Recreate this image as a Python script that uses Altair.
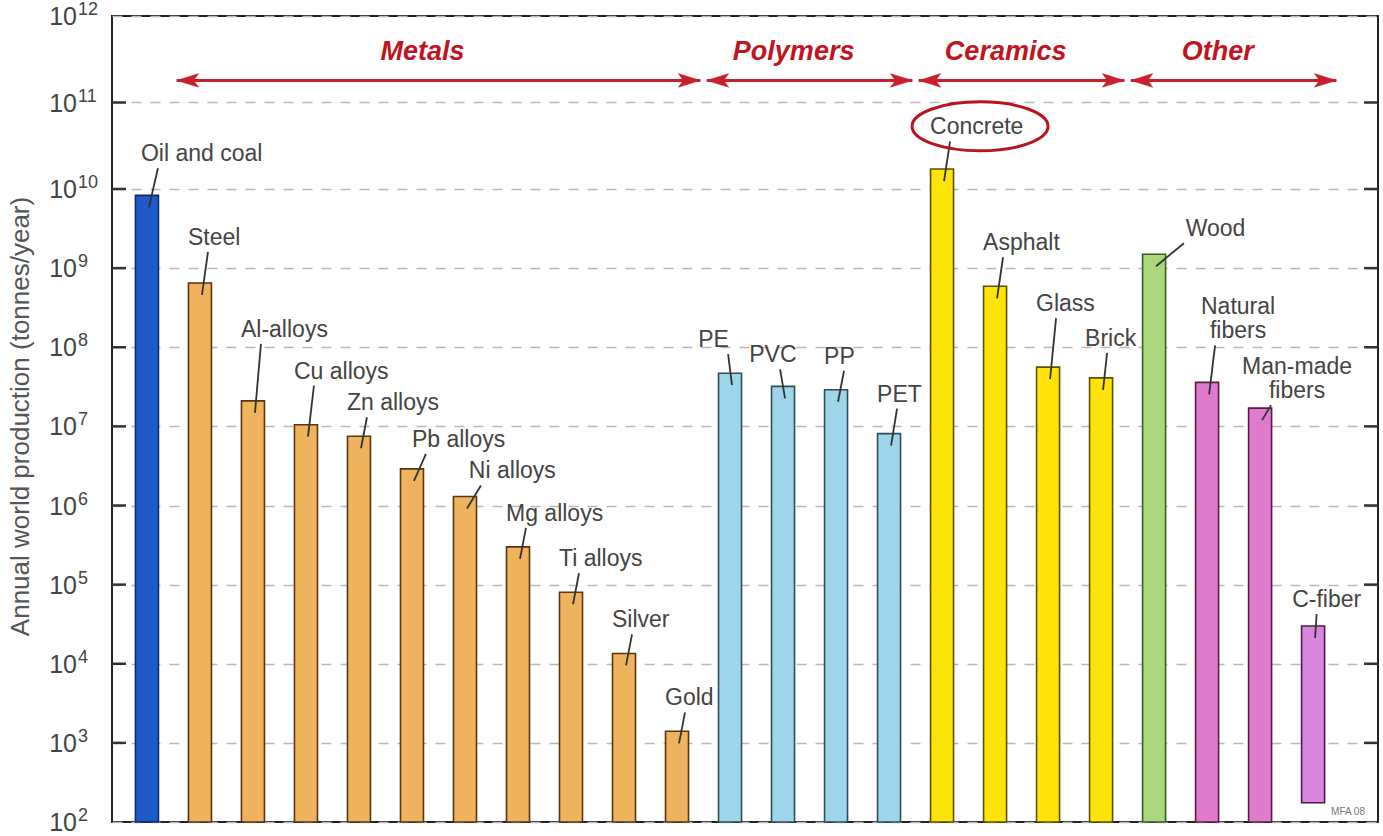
import altair as alt
import pandas as pd

# ---------------- data ----------------
names = ["Oil and coal", "Steel", "Al-alloys", "Cu alloys", "Zn alloys", "Pb alloys",
         "Ni alloys", "Mg alloys", "Ti alloys", "Silver", "Gold",
         "PE", "PVC", "PP", "PET",
         "Concrete", "Asphalt", "Glass", "Brick",
         "Wood", "Natural\nfibers", "Man-made\nfibers", "C-fiber"]
values = [8.3e9, 6.5e8, 2.1e7, 1.05e7, 7.5e6, 2.9e6, 1.3e6, 3.0e5, 8.0e4, 1.35e4, 1.4e3,
          4.7e7, 3.2e7, 2.9e7, 8.1e6,
          1.7e10, 5.9e8, 5.6e7, 4.1e7,
          1.5e9, 3.6e7, 1.7e7, 3.0e4]
bases = [1e2] * 22 + [1.75e2]
groups = [""] + ["Metals"] * 10 + ["Polymers"] * 4 + ["Ceramics"] * 4 + ["Other"] * 4
kinds = ["Fuel"] + ["Metal"] * 10 + ["Polymer"] * 4 + ["Ceramic"] * 4 + ["Wood", "Fiber", "Fiber", "C-fiber"]

kind_domain = ["Fuel", "Metal", "Polymer", "Ceramic", "Wood", "Fiber", "C-fiber"]
kind_fill = ["#1f5bc8", "#eeb35c", "#9dd6ea", "#ffe30a", "#aad67c", "#e07bcc", "#d987dc"]
kind_stroke = ["#0c2a66", "#5a3510", "#2f4d58", "#5c5000", "#3d5a22", "#5a1a4a", "#4a1a4a"]

tick_exps = list(range(2, 13))

# annotation nudges for a few labels: (horizontal px, extra lift px)
label_nudge = {"Oil and coal": (6, 8), "Steel": (0, 12), "Al-alloys": (0, 38),
               "Cu alloys": (0, 20), "Pb alloys": (12, -4), "Ni alloys": (16, -8),
               "PE": (-20, 0), "PVC": (-22, -2), "PET": (0, 6),
               "Concrete": (0, 8), "Asphalt": (0, 10), "Glass": (0, 30), "Brick": (-4, 6),
               "Wood": (44, -8), "Natural\nfibers": (0, 18), "Man-made\nfibers": (6, -16),
               "C-fiber": (-9, -7)}

arrow_y = 1.8e11
group_label_y = 3.8e11

FONT = "Liberation Sans, Arial, Helvetica, sans-serif"
W, H = 1266, 806
X_DOMAIN = [-0.565, 23.13]
PX_PER_IDX = W / (X_DOMAIN[1] - X_DOMAIN[0])
PX_PER_DECADE = 79.1
LINE_H = 24

df = pd.DataFrame({"name": names, "value": values, "base": bases,
                   "group": groups, "kind": kinds, "idx": list(range(len(names)))})
nud = [label_nudge.get(n, (0, 0)) for n in df.name]
nlines = [n.count("\n") + 1 for n in df.name]
df["multi"] = [k > 1 for k in nlines]
df["label_x"] = [i + d[0] / PX_PER_IDX for i, d in zip(df.idx, nud)]
df["leader_x"] = [i + 0.5 * d[0] / PX_PER_IDX for i, d in zip(df.idx, nud)]
df["leader_y"] = [v * 10 ** (d[1] / PX_PER_DECADE) for v, d in zip(df.value, nud)]
df["label_y"] = [v * 10 ** ((d[1] + LINE_H * (k - 1)) / PX_PER_DECADE)
                 for v, d, k in zip(df.value, nud, nlines)]

ticks = pd.DataFrame({"exp": tick_exps})
ticks["value"] = [10.0 ** e for e in tick_exps]
ticks["ten"] = "10"
ticks["sup"] = [str(e) for e in tick_exps]
inner_ticks = ticks[(ticks.exp > 2) & (ticks.exp < 12)]

g = df[df.group != ""].groupby("group", sort=False)["idx"].agg(["min", "max"]).reset_index()
g["start"] = g["min"] - 0.44
g["end"] = g["max"] + 0.44
g["mid"] = (g["start"] + g["end"]) / 2 - 0.3
g["ya"] = arrow_y
g["yl"] = group_label_y

xscale = alt.Scale(domain=X_DOMAIN, nice=False, zero=False)
yscale = alt.Scale(type="log", domain=[1e2, 1e10, 1e12], range=[H, 173, 0], nice=False)
yaxis = alt.Axis(values=list(ticks["value"]), grid=True, gridDash=[10, 9],
                 gridColor="#b8b8b8", gridWidth=1.5, labels=False, ticks=False,
                 domain=False, title="Annual world production (tonnes/year)",
                 titleFont=FONT, titleFontSize=26, titleFontWeight="normal",
                 titleColor="#555555", titleX=-92, titleY=400, titleAngle=-90,
                 titleAlign="center", titleBaseline="middle")


def Yq(field):
    return alt.Y(field + ":Q", scale=yscale, axis=yaxis)


def Xq(field):
    return alt.X(field + ":Q", scale=xscale, axis=None)


base_chart = alt.Chart(df)

bars = base_chart.mark_bar(size=23, strokeWidth=1.6).encode(
    x=Xq("idx"), y=Yq("value"), y2="base:Q",
    fill=alt.Fill("kind:N", scale=alt.Scale(domain=kind_domain, range=kind_fill), legend=None),
    stroke=alt.Stroke("kind:N", scale=alt.Scale(domain=kind_domain, range=kind_stroke), legend=None),
)

leaders = base_chart.mark_rule(xOffset=8, yOffset=-19, x2Offset=2, y2Offset=12,
                               stroke="#333333", strokeWidth=1.8).encode(
    x=Xq("leader_x"), x2="idx:Q", y=Yq("leader_y"), y2="value:Q")

labels = base_chart.transform_filter("!datum.multi").mark_text(
    align="left", baseline="bottom", dx=-12, dy=-21,
    font=FONT, fontSize=23, color="#444444").encode(
    x=Xq("label_x"), y=Yq("label_y"), text="name:N")

labels_multi = base_chart.transform_filter("datum.multi").mark_text(
    align="center", baseline="bottom", dx=31, dy=-21,
    font=FONT, fontSize=23, color="#444444",
    lineBreak="\n", lineHeight=LINE_H).encode(
    x=Xq("label_x"), y=Yq("label_y"), text="name:N")

ellipse = base_chart.transform_filter(alt.datum.name == "Concrete").mark_point(
    shape="M-1,0A1,0.36,0,1,1,1,0A1,0.36,0,1,1,-1,0Z", size=18496, filled=False,
    stroke="#b8141e", strokeWidth=3, opacity=1, xOffset=38, yOffset=-34).encode(
    x=Xq("label_x"), y=Yq("label_y"))

garr = alt.Chart(g)
shaft = garr.mark_rule(stroke="#c8202a", strokeWidth=3).encode(
    x=Xq("start"), x2="end:Q", y=Yq("ya"))
head_l = garr.mark_point(shape="M0,0L2,-0.62L1.55,0L2,0.62Z", size=484, filled=True,
                         fill="#c8202a", stroke="#c8202a", strokeWidth=0.5, opacity=1).encode(
    x=Xq("start"), y=Yq("ya"))
head_r = garr.mark_point(shape="M0,0L-2,-0.62L-1.55,0L-2,0.62Z", size=484, filled=True,
                         fill="#c8202a", stroke="#c8202a", strokeWidth=0.5, opacity=1).encode(
    x=Xq("end"), y=Yq("ya"))
glabels = garr.mark_text(font=FONT, fontSize=27, fontWeight="bold", fontStyle="italic",
                         color="#c0141e", baseline="middle", align="center").encode(
    x=Xq("mid"), y=Yq("yl"), text="group:N")

tk = alt.Chart(inner_ticks)
tick_l = tk.mark_rule(stroke="#333333", strokeWidth=2.5).encode(
    x=alt.value(0), x2=alt.value(14), y=Yq("value"))
tick_r = tk.mark_rule(stroke="#333333", strokeWidth=2.5).encode(
    x=alt.value(W - 14), x2=alt.value(W), y=Yq("value"))

tl = alt.Chart(ticks)
ten = tl.mark_text(align="right", baseline="middle", dy=1, font=FONT, fontSize=25,
                   color="#444444").encode(
    x=alt.value(-35), y=Yq("value"), text="ten:N")
expo = tl.mark_text(align="left", baseline="middle", dy=-6, font=FONT, fontSize=18,
                    color="#444444").encode(
    x=alt.value(-34), y=Yq("value"), text="sup:N")

mfa = alt.Chart(pd.DataFrame({"t": ["MFA 08"]})).mark_text(
    font=FONT, fontSize=10, color="#777777", align="center", baseline="middle").encode(
    x=alt.value(W - 30), y=alt.value(H - 10), text="t:N")

chart = alt.layer(
    bars, leaders, labels, labels_multi, ellipse, shaft, head_l, head_r, glabels,
    tick_l, tick_r, ten, expo, mfa
).properties(
    width=W, height=H,
    autosize=alt.AutoSizeParams(type="none"),
    padding={"left": 112, "top": 16, "right": 5, "bottom": 14},
    background="white",
).configure_view(stroke="#222222", strokeWidth=2)

chart.save("out.html", embed_options={"renderer": "svg", "actions": False})
